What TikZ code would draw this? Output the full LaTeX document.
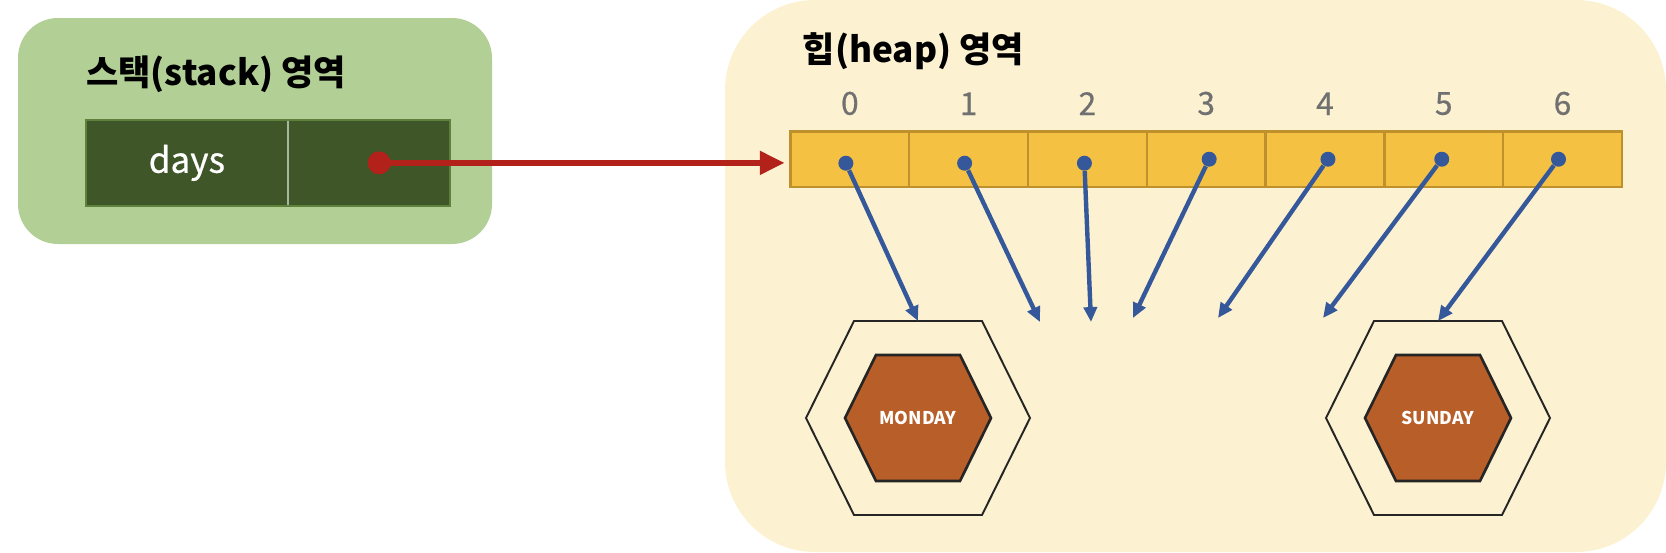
\documentclass[tikz,border=0pt]{standalone}
\usepackage{fontspec}
\setmainfont{Noto Sans CJK KR}
\newfontfamily\medfont{Noto Sans CJK KR}[FakeBold=0.6]
\usetikzlibrary{arrows.meta,positioning,calc,matrix}

\definecolor{stackbg}{RGB}{178,207,150}
\definecolor{heapbg}{RGB}{252,241,209}
\definecolor{slotgreen}{RGB}{62,86,40}
\definecolor{slotedge}{RGB}{94,130,60}
\definecolor{slotline}{RGB}{170,182,160}
\definecolor{arrfill}{RGB}{245,193,66}
\definecolor{arredge}{RGB}{191,145,45}
\definecolor{refred}{RGB}{178,34,26}
\definecolor{refblue}{RGB}{53,88,154}
\definecolor{dayfill}{RGB}{184,94,40}
\definecolor{hexline}{RGB}{37,37,37}
\definecolor{idxgray}{RGB}{112,112,112}

\tikzset{
  area title/.style={font=\bfseries\fontsize{20}{24}\selectfont, inner sep=0pt, anchor=base west},
  idx/.style={font=\medfont\fontsize{18}{20}\selectfont, text=idxgray, inner sep=0pt},
  refdot/.style={circle, fill=refred, inner sep=0pt, minimum size=0.46cm},
  elemdot/.style={circle, fill=refblue, inner sep=0pt, minimum size=0.3cm},
  refarrow/.style={refred, line width=3pt, -{Triangle[length=14pt,width=13pt]}},
  elemarrow/.style={refblue, line width=2.5pt, -{Triangle[length=8.5pt,width=7.5pt]}},
  hexout/.style={draw=hexline, line width=1.1pt},
  hexin/.style={draw=hexline, fill=dayfill, line width=1.5pt},
  daytext/.style={font=\bfseries\fontsize{10}{12}\selectfont, text=white, inner sep=0pt}
}

\begin{document}
\begin{tikzpicture}[x=0.02cm, y=-0.02cm]
\useasboundingbox (0,0) rectangle (1666,552);
\fill[heapbg, rounded corners=1.8cm] (725,0) rectangle (1666,552);
\fill[stackbg, rounded corners=0.8cm] (18,18) rectangle (492,244);

\matrix [matrix of nodes, anchor=north west, inner sep=0pt, row sep=-\pgflinewidth, column sep=-\pgflinewidth,
		 nodes={rectangle,draw=slotline,line width=0.6pt,fill=slotgreen,inner sep=0pt,outer sep=0pt,anchor=center,
				minimum height=1.72cm,text=white,font=\medfont\fontsize{20}{24}\selectfont},
		 column 1/.style = {minimum width=4.04cm},
		 column 2/.style = {minimum width=3.24cm},
		 nodes in empty cells, ampersand replacement=\&] (stk) at (85,119) {
days\& \\
};
\draw [slotedge,line width=1.2pt] (stk-1-1.north west) rectangle (stk-1-2.south east);
\node [above=0.68cm of stk-1-1.north west, area title] {스택(stack) 영역};

\matrix [matrix of nodes, anchor=north west, inner sep=0pt, line width=1.4pt,
		 row sep=-\pgflinewidth, column sep=-\pgflinewidth,
		 nodes={rectangle,draw=arredge,line width=1.4pt,fill=arrfill,inner sep=0pt,outer sep=0pt,anchor=center,
				minimum width=2.376cm,minimum height=1.11cm},
		 nodes in empty cells, ampersand replacement=\&] (arr) at (788,129) {
\& \& \& \& \& \& \\
};
\node [above=1.38cm of arr-1-1.north west, xshift=0.24cm, area title] {힙(heap) 영역};
\foreach \j in {1,...,7} {
  \pgfmathtruncatemacro\k{\j-1}
  \node [idx, above=0.32cm of arr-1-\j.north] {\k};
}

\node [refdot] (ref) at ([xshift=0.2cm]stk-1-2.center) {};
\draw [refarrow] (ref.center) -- ($(arr-1-1.west |- ref)+(-6,0)$);

\foreach \cx/\day in {918/MONDAY,1438/SUNDAY} {
  \begin{scope}[shift={(\cx,418)}]
    \draw [hexout] (-112,0) -- (-64,-97) -- (64,-97) -- (112,0) -- (64,97) -- (-64,97) -- cycle;
    \draw [hexin] (-73,0) -- (-42,-63) -- (42,-63) -- (73,0) -- (42,63) -- (-42,63) -- cycle;
    \node [daytext] (\day) at (0,0) {\day};
    \coordinate (\day-top) at (0,-97);
  \end{scope}
}

\foreach \dx/\dy [count=\j] in {-4/4,-4/4,-3/4,3/0,3/0,-2/0,-4/0}
  \node [elemdot] (p\j) at ([shift={(\dx,\dy)}]arr-1-\j.center) {};
\coordinate (t2) at (1040,322);
\coordinate (t3) at (1091,322);
\coordinate (t4) at (1133,318);
\coordinate (t5) at (1218,318);
\coordinate (t6) at (1323,318);
\foreach \j/\t in {1/MONDAY-top,2/t2,3/t3,4/t4,5/t5,6/t6,7/SUNDAY-top}
  \draw [elemarrow] (p\j) -- (\t);
\end{tikzpicture}
\end{document}
